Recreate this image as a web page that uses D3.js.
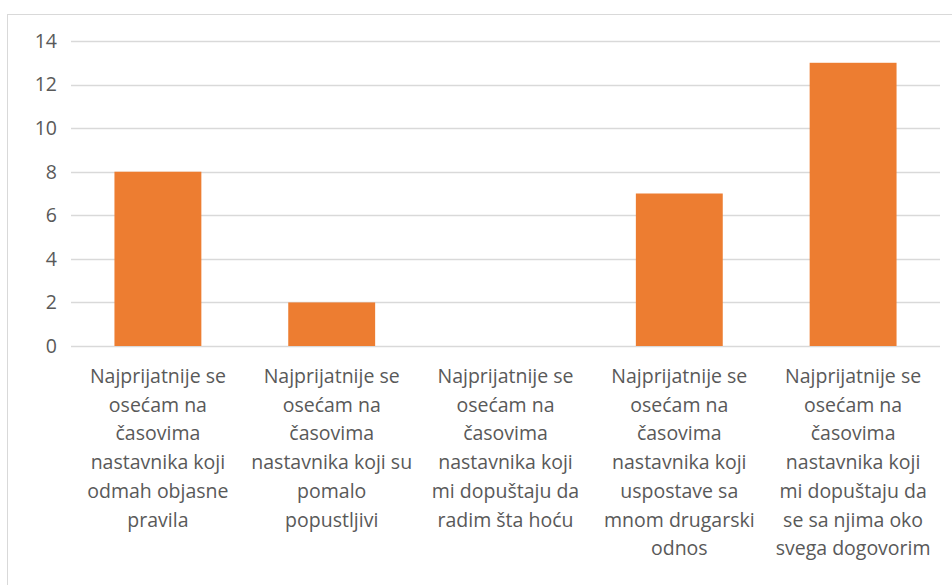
<!DOCTYPE html>
<html>
<head>
<meta charset="utf-8">
<script src="https://cdn.jsdelivr.net/npm/d3@7"></script>
<style>
    body { margin: 0; background: #fff; }
    text { font-family: "Open Sans", Lato, sans-serif; fill: #595959; }
</style>
</head>
<body>
<svg width="952" height="585"></svg>
<script>
var categories = [
    "Najprijatnije se\nosećam na\nčasovima\nnastavnika koji\nodmah objasne\npravila",
    "Najprijatnije se\nosećam na\nčasovima\nnastavnika koji su\npomalo\npopustljivi",
    "Najprijatnije se\nosećam na\nčasovima\nnastavnika koji\nmi dopuštaju da\nradim šta hoću",
    "Najprijatnije se\nosećam na\nčasovima\nnastavnika koji\nuspostave sa\nmnom drugarski\nodnos",
    "Najprijatnije se\nosećam na\nčasovima\nnastavnika koji\nmi dopuštaju da\nse sa njima oko\nsvega dogovorim"
]
var values = [8, 2, 0, 7, 13]
var y_ticks = [0, 2, 4, 6, 8, 10, 12, 14]

var svg = d3.select("svg")
var margin = { top: 41, left: 71, right: 12, bottom: 239 }
var width = 952 - margin.left - margin.right,
    height = 585 - margin.top - margin.bottom

// chart frame
svg.append("rect")
    .attr("x", 7.5).attr("y", 14.5)
    .attr("width", 960).attr("height", 600)
    .attr("fill", "none")
    .attr("stroke", "#d9d9d9")

var g = svg.append("g").attr("transform", "translate(" + margin.left + "," + margin.top + ")")

var x = d3.scaleBand().domain(categories).range([0, width]).paddingInner(0.5).paddingOuter(0.25)
var y = d3.scaleLinear().domain([0, 14]).range([height, 0])

// gridlines
g.selectAll(".grid")
    .data(y_ticks)
    .enter().append("line")
    .attr("x1", 0).attr("x2", width)
    .attr("y1", function (d) { return Math.round(y(d)) + 0.5 })
    .attr("y2", function (d) { return Math.round(y(d)) + 0.5 })
    .attr("stroke", "#d9d9d9")
    .attr("stroke-width", 1.3)

// y labels
g.selectAll(".ylab")
    .data(y_ticks)
    .enter().append("text")
    .attr("x", -14)
    .attr("y", function (d) { return y(d) })
    .attr("dy", "0.35em")
    .attr("text-anchor", "end")
    .attr("font-size", "19.5px")
    .text(function (d) { return d })

// bars
g.selectAll(".bar")
    .data(values)
    .enter().append("rect")
    .attr("x", function (d, i) { return x(categories[i]) })
    .attr("y", function (d) { return y(d) })
    .attr("width", x.bandwidth())
    .attr("height", function (d) { return height - y(d) })
    .attr("fill", "#ed7d31")

// category labels
g.selectAll(".xlab")
    .data(categories)
    .enter().append("text")
    .attr("text-anchor", "middle")
    .attr("font-size", "19.5px")
    .attr("transform", function (d) {
        return "translate(" + (x(d) + x.bandwidth() / 2) + "," + (height + 37) + ")"
    })
    .each(function (d) {
        var t = d3.select(this)
        d.split("\n").forEach(function (line, i) {
            t.append("tspan").attr("x", 0).attr("y", i * 28.7).text(line)
        })
    })
</script>
</body>
</html>
